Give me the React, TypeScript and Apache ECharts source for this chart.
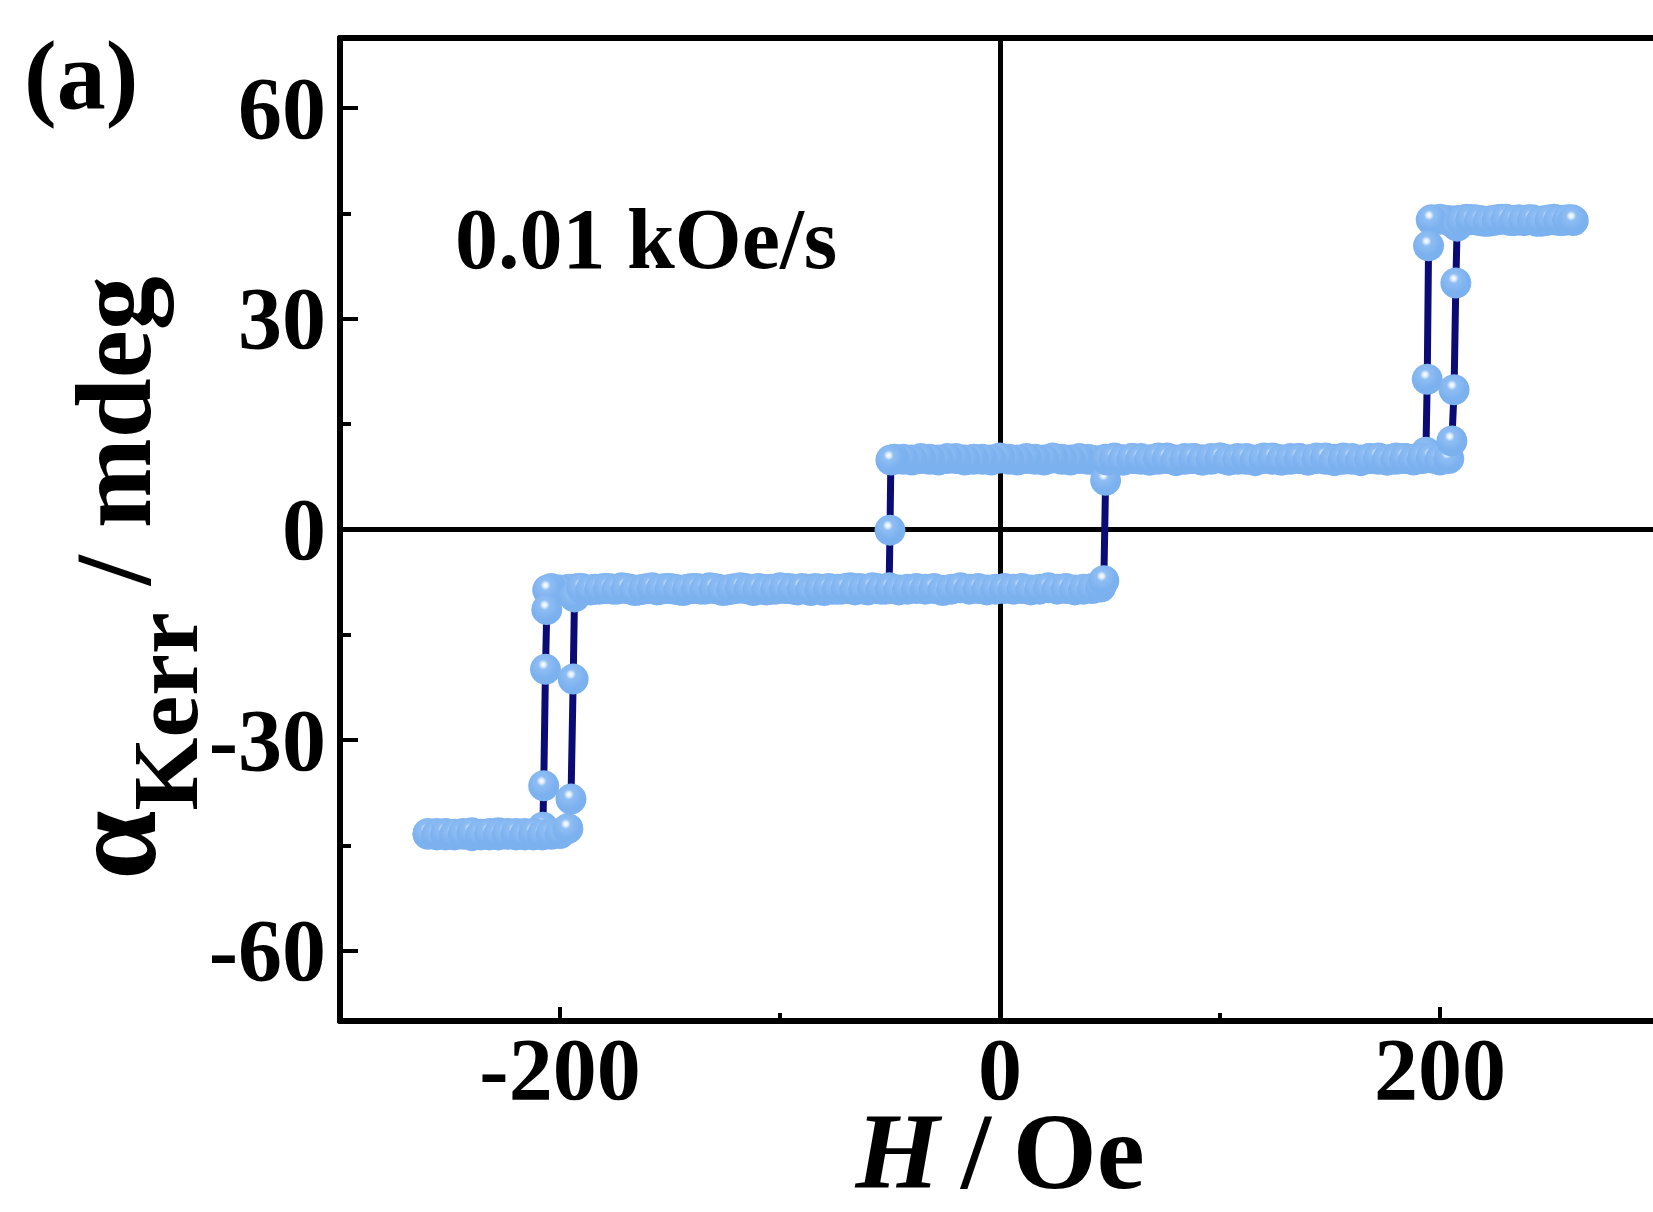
import React, { useEffect, useRef } from 'react';
import * as echarts from 'echarts';

// ---------- axis ticks ----------
const xTickValues = [-200, 0, 200];
const xMinorTickValues = [-100, 100];
const yTickValues = [-60, -30, 0, 30, 60];
const yMinorTickValues = [-45, -15, 15, 45];

// ---------- descending branch (H from +260 to -260 Oe) ----------
const descendingTop = [
  [260, 44.1], [256, 44.0], [252, 44.2], [248, 44.0], [244, 43.9], [240, 44.1], [236, 44.1], [232, 44.0],
  [228, 44.2], [224, 44.0], [220, 43.9], [216, 44.1], [212, 44.2], [208, 44.0], [204, 44.0], [200, 44.2],
  [196, 44.1],
];
const descendingStepHigh = [[194.8, 40.4], [194.2, 21.4], [193.6, 11.0]];
const descendingMiddle = [
  [192, 10.2], [188, 10.0], [184, 10.1], [180, 10.2], [176, 9.9], [172, 10.0], [168, 10.1], [164, 9.8],
  [160, 10.0], [156, 10.2], [152, 10.0], [148, 10.0], [144, 10.2], [140, 9.9], [136, 10.1], [132, 10.1],
  [128, 9.9], [124, 10.0], [120, 10.2], [116, 9.8], [112, 10.0], [108, 10.1], [104, 9.9], [100, 10.2],
  [96, 10.0], [92, 9.9], [88, 10.1], [84, 10.1], [80, 9.9], [76, 10.2], [72, 10.0], [68, 9.9],
  [64, 10.1], [60, 10.1], [56, 9.9], [52, 10.2], [48, 10.0], [44, 9.8], [40, 10.0], [36, 10.1],
  [32, 9.9], [28, 10.0], [24, 10.2], [20, 9.9], [16, 10.0], [12, 10.1], [8, 9.9], [4, 10.0],
  [0, 10.2], [-4, 9.9], [-8, 10.0], [-12, 10.0], [-16, 9.9], [-20, 10.1], [-24, 10.1], [-28, 9.9],
  [-32, 10.0], [-36, 10.1], [-40, 9.9], [-44, 10.0], [-48, 10.0], [-49.6, 9.9],
];
const descendingStepZero = [[-50.0, -0.1], [-50.4, -8.3]];
const descendingLower = [
  [-52, -8.5], [-56, -8.4], [-60, -8.6], [-64, -8.4], [-68, -8.3], [-72, -8.5], [-76, -8.5], [-80, -8.7],
  [-84, -8.4], [-88, -8.5], [-92, -8.6], [-96, -8.4], [-100, -8.3], [-104, -8.5], [-108, -8.5], [-112, -8.7],
  [-116, -8.4], [-120, -8.4], [-124, -8.6], [-128, -8.5], [-132, -8.3], [-136, -8.5], [-140, -8.4], [-144, -8.7],
  [-148, -8.5], [-152, -8.4], [-156, -8.6], [-160, -8.4], [-164, -8.6], [-168, -8.5], [-172, -8.3], [-176, -8.5],
  [-180, -8.4], [-184, -8.5], [-188, -8.6], [-192, -8.4], [-196, -8.5], [-200, -8.6], [-204, -8.4], [-205.6, -8.6],
];
const descendingStepLow = [[-206.0, -11.4], [-206.6, -19.9], [-207.4, -36.5], [-207.8, -42.4]];
const descendingBottom = [
  [-212, -43.5], [-216, -43.3], [-220, -43.5], [-224, -43.3], [-228, -43.2], [-232, -43.5], [-236, -43.4],
  [-240, -43.6], [-244, -43.3], [-248, -43.4], [-252, -43.5], [-256, -43.3], [-260, -43.4],
];

// ---------- ascending branch (H from -260 to +260 Oe) ----------
const ascendingBottom = [
  [-260, -43.3], [-256, -43.5], [-252, -43.3], [-248, -43.5], [-244, -43.4], [-240, -43.2], [-236, -43.5],
  [-232, -43.3], [-228, -43.5], [-224, -43.4], [-220, -43.3], [-216, -43.5], [-212, -43.3], [-208, -43.5],
  [-204, -43.4], [-200, -43.3], [-196.4, -42.6],
];
const ascendingStepLow = [[-195.0, -38.4], [-194.0, -21.3], [-193.4, -9.6]];
const ascendingLower = [
  [-190, -8.4], [-186, -8.6], [-182, -8.5], [-178, -8.4], [-174, -8.5], [-170, -8.4], [-166, -8.7], [-162, -8.5],
  [-158, -8.3], [-154, -8.5], [-150, -8.4], [-146, -8.6], [-142, -8.5], [-138, -8.4], [-134, -8.5], [-130, -8.4],
  [-126, -8.7], [-122, -8.5], [-118, -8.3], [-114, -8.5], [-110, -8.4], [-106, -8.6], [-102, -8.5], [-98, -8.4],
  [-94, -8.5], [-90, -8.4], [-86, -8.7], [-82, -8.5], [-78, -8.4], [-74, -8.5], [-70, -8.4], [-66, -8.6],
  [-62, -8.5], [-58, -8.3], [-54, -8.5], [-50, -8.4], [-46, -8.6], [-42, -8.5], [-38, -8.4], [-34, -8.5],
  [-30, -8.4], [-26, -8.7], [-22, -8.5], [-18, -8.3], [-14, -8.5], [-10, -8.4], [-6, -8.6], [-2, -8.5],
  [2, -8.4], [6, -8.5], [10, -8.4], [14, -8.6], [18, -8.5], [22, -8.3], [26, -8.5], [30, -8.4],
  [34, -8.6], [38, -8.5], [42, -8.4], [45.8, -8.2], [47.2, -7.3],
];
const ascendingStepZero = [[48.0, 7.0], [48.6, 9.9]];
const ascendingMiddle = [
  [52, 10.1], [56, 9.9], [60, 10.1], [64, 10.0], [68, 9.9], [72, 10.2], [76, 10.1], [80, 9.8],
  [84, 10.0], [88, 10.1], [92, 9.9], [96, 10.1], [100, 10.2], [104, 9.9], [108, 10.0], [112, 10.1],
  [116, 9.9], [120, 10.1], [124, 10.2], [128, 9.9], [132, 10.0], [136, 10.1], [140, 9.9], [144, 10.1],
  [148, 10.2], [152, 9.8], [156, 10.0], [160, 10.1], [164, 9.9], [168, 10.1], [172, 10.2], [176, 9.9],
  [180, 10.0], [184, 10.1], [188, 9.9], [192, 10.1], [196, 10.2], [200, 9.9], [204, 10.1],
];
const ascendingStepHigh = [[205.4, 12.6], [206.4, 19.9], [207.2, 35.1], [207.8, 43.2]];
const ascendingTop = [
  [210, 43.9], [214, 44.1], [218, 44.0], [222, 43.9], [226, 44.1], [230, 44.2], [234, 44.0],
  [238, 44.0], [242, 44.1], [246, 43.9], [250, 44.1], [254, 44.0], [258, 44.1], [260.6, 44.0],
];

const descending = [
  ...descendingTop, ...descendingStepHigh, ...descendingMiddle, ...descendingStepZero,
  ...descendingLower, ...descendingStepLow, ...descendingBottom,
];
const ascending = [
  ...ascendingBottom, ...ascendingStepLow, ...ascendingLower, ...ascendingStepZero,
  ...ascendingMiddle, ...ascendingStepHigh, ...ascendingTop,
];

const FONT = "'Liberation Serif', 'Times New Roman', serif";
const LINE_COLOR = '#0b0b75';

export default function App() {
  const ref = useRef<HTMLDivElement | null>(null);

  useEffect(() => {
    document.body.style.margin = '0';
    document.body.style.overflow = 'hidden';
    if (!ref.current) return;
    const chart = echarts.init(ref.current, null, { renderer: 'svg' });

    const ballColor = () =>
      new echarts.graphic.RadialGradient(0.43, 0.35, 0.45, [
        { offset: 0, color: '#ffffff' },
        { offset: 0.15, color: '#e2effd' },
        { offset: 0.36, color: '#8ebdf3' },
        { offset: 1, color: '#7cb1ef' },
      ]);

    const axisLineStyle = { color: '#000', width: 6 };
    const tickLineStyle = { color: '#000', width: 4 };
    const labelStyle = {
      fontFamily: FONT,
      fontWeight: 'bold' as const,
      fontSize: 88,
      color: '#000',
    };

    const option: any = {
      animation: false,
      backgroundColor: '#fff',
      grid: { left: 340, top: 38, width: 1320, height: 983, containLabel: false, outerBoundsMode: 'none' },
      xAxis: [
        {
          type: 'value', min: -300, max: 300, position: 'bottom',
          axisLine: { show: true, onZero: false, lineStyle: axisLineStyle },
          axisTick: { show: true, inside: true, length: 14, customValues: xTickValues, lineStyle: tickLineStyle },
          axisLabel: { ...labelStyle, lineHeight: 70, margin: 13, customValues: xTickValues },
          splitLine: { show: false },
          name: '{i|H}{n|\u2009/\u2009Oe}',
          nameLocation: 'middle',
          nameGap: 130,
          nameMoveOverlap: false,
          nameTextStyle: {
            fontFamily: FONT, fontWeight: 'bold', fontSize: 108, color: '#000',
            verticalAlign: 'middle', lineHeight: 88,
            rich: {
              i: { fontFamily: FONT, fontWeight: 'bold', fontStyle: 'italic', fontSize: 108, lineHeight: 88, color: '#000' },
              n: { fontFamily: FONT, fontWeight: 'bold', fontSize: 108, lineHeight: 88, color: '#000' },
            },
          },
        },
        {
          type: 'value', min: -300, max: 300, position: 'bottom',
          axisLine: { show: false, onZero: false },
          axisTick: { show: true, inside: true, length: 8, customValues: xMinorTickValues, lineStyle: tickLineStyle },
          axisLabel: { show: false },
          splitLine: { show: false },
        },
        {
          type: 'value', min: -300, max: 300, position: 'top',
          axisLine: { show: true, onZero: false, lineStyle: axisLineStyle },
          axisTick: { show: false },
          axisLabel: { show: false },
          splitLine: { show: false },
        },
      ],
      yAxis: [
        {
          type: 'value', min: -70, max: 70, position: 'left',
          axisLine: { show: true, onZero: false, lineStyle: axisLineStyle },
          axisTick: { show: true, inside: true, length: 18, customValues: yTickValues, lineStyle: tickLineStyle },
          axisLabel: { ...labelStyle, margin: 14, customValues: yTickValues },
          splitLine: { show: false },
        },
        {
          type: 'value', min: -70, max: 70, position: 'left',
          axisLine: { show: false, onZero: false },
          axisTick: { show: true, inside: true, length: 11, customValues: yMinorTickValues, lineStyle: tickLineStyle },
          axisLabel: { show: false },
          splitLine: { show: false },
        },
      ],
      graphic: [
        {
          type: 'text', x: 24, y: 75, z: 10,
          style: { text: '(a)', fontFamily: FONT, fontWeight: 'bold', fontSize: 98, fill: '#000', align: 'left', verticalAlign: 'middle' },
        },
        {
          type: 'text', x: 455, y: 239, z: 10,
          style: { text: '0.01 kOe/s', fontFamily: FONT, fontWeight: 'bold', fontSize: 86, fill: '#000', align: 'left', verticalAlign: 'middle' },
        },
        {
          type: 'text', x: 113, y: 578, rotation: Math.PI / 2, z: 10,
          style: {
            text: '{a|α}{s|Kerr}{b| / mdeg}',
            align: 'center', verticalAlign: 'middle', fill: '#000',
            fontFamily: FONT, fontWeight: 'bold', fontSize: 108,
            rich: {
              a: { fontFamily: FONT, fontWeight: 'bold', fontSize: 124, fill: '#000' },
              s: { fontFamily: FONT, fontWeight: 'bold', fontSize: 94, fill: '#000', padding: [104, 0, 0, 0] },
              b: { fontFamily: FONT, fontWeight: 'bold', fontSize: 108, fill: '#000' },
            },
          },
        },
      ],
      series: [
        {
          name: 'descending line', type: 'line', data: descending, showSymbol: false, z: 2,
          lineStyle: { color: LINE_COLOR, width: 7 }, silent: true,
          markLine: {
            silent: true, z: 1, symbol: ['none', 'none'], label: { show: false },
            lineStyle: { color: '#000', width: 5, type: 'solid' },
            emphasis: { disabled: true },
            data: [{ xAxis: 0 }, { yAxis: 0 }],
          },
        },
        {
          name: 'ascending line', type: 'line', data: ascending, showSymbol: false, z: 2,
          lineStyle: { color: LINE_COLOR, width: 7 }, silent: true,
        },
        {
          name: 'descending', type: 'scatter', data: descending, symbol: 'circle', symbolSize: 31, z: 3,
          itemStyle: { color: ballColor(), opacity: 1 }, silent: true,
        },
        {
          name: 'ascending', type: 'scatter', data: ascending, symbol: 'circle', symbolSize: 31, z: 4,
          itemStyle: { color: ballColor(), opacity: 1 }, silent: true,
        },
      ],
    };

    chart.setOption(option);
    return () => chart.dispose();
  }, []);

  return <div ref={ref} style={{ width: 1653, height: 1212 }} />;
}
